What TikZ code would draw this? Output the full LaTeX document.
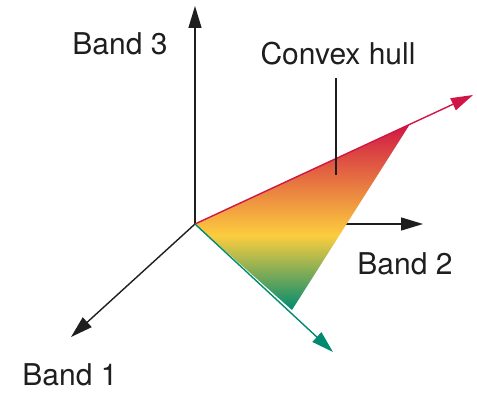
\documentclass[tikz,border=0pt]{standalone}
\usepackage{fontspec}
\setmainfont{TeX Gyre Heros}
\usetikzlibrary{arrows.meta}
\definecolor{HullRed}{RGB}{208,22,68}
\definecolor{HullYellow}{RGB}{252,205,62}
\definecolor{HullGreen}{RGB}{0,138,112}
\definecolor{AxisGray}{RGB}{30,30,30}
\pgfdeclareverticalshading{hullshade}{100bp}{color(0bp)=(HullGreen); color(25bp)=(HullGreen); color(45bp)=(HullYellow); color(75bp)=(HullRed); color(100bp)=(HullRed)}

\begin{document}
\begin{tikzpicture}[x=1pt, y=-1pt, every node/.style={font=\fontsize{30}{36}\selectfont, text=AxisGray},
  axis/.style={line width=1.4pt, -{Triangle[length=22pt,width=13pt]}}]
\useasboundingbox (0,0) rectangle (477,393);
% axes
\coordinate (O) at (195,224);
\coordinate (b1) at (71,337);
\coordinate (b2) at (423,224);
\coordinate (b3) at (195,6);
\draw[axis, AxisGray] (O) -- (b1);
\draw[axis, AxisGray] (O) -- (b2);
\draw[axis, AxisGray] (O) -- (b3);

% hull
\coordinate (top) at (410,124);
\coordinate (bot) at (292,310);
\coordinate (redtip) at (473,95);
\coordinate (greentip) at (333,352);
\shade[shading=hullshade] (O) -- (top) -- (bot) -- cycle;
\draw[axis, HullRed] (O) -- (redtip);
\draw[axis, HullGreen] (O) -- (greentip);

% labels
\node (band1) at (70,375) {Band 1};
\node (band2) at (405,264) {Band 2};
\node (band3) at (120,43.5) {Band 3};
\node (hull) at (338,54) {Convex hull};
\coordinate (hullpt) at (336,175);
\draw[line width=1.3pt, AxisGray] ([yshift=-9pt]hull.south -| hullpt) -- (hullpt);
\end{tikzpicture}
\end{document}
